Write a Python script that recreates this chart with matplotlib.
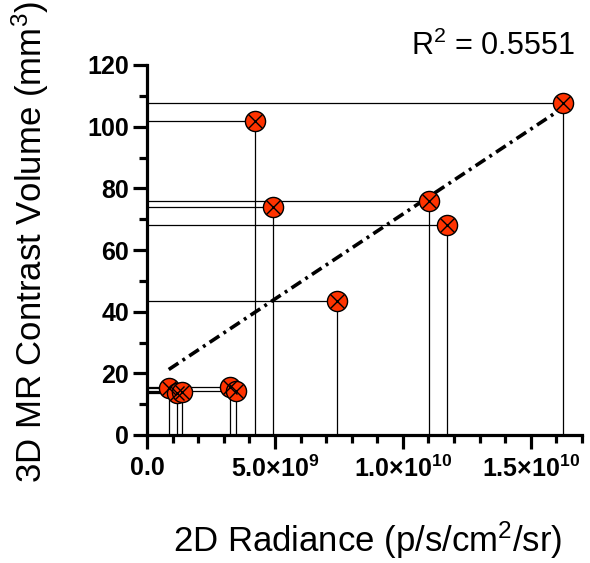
import numpy as np
import matplotlib
matplotlib.use("Agg")
import matplotlib.pyplot as plt
from matplotlib.ticker import MultipleLocator, FixedLocator

plt.rcParams['font.family'] = ['Liberation Sans', 'DejaVu Sans']
plt.rcParams['mathtext.fontset'] = 'custom'
plt.rcParams['mathtext.rm'] = 'Liberation Sans'
plt.rcParams['mathtext.bf'] = 'Liberation Sans:bold'
plt.rcParams['mathtext.it'] = 'Liberation Sans:italic'
plt.rcParams['mathtext.default'] = 'regular'

# ---- data ----
radiance = [0.85e9, 1.16e9, 1.38e9, 3.25e9, 3.47e9, 4.22e9, 4.91e9, 7.43e9, 11.03e9, 11.73e9, 16.27e9]
volume = [15.1, 13.6, 14.0, 15.7, 14.4, 101.9, 74.0, 43.6, 75.9, 68.1, 107.8]
x_ticks = [0, 5e9, 1e10, 1.5e10]
x_tick_labels = ['0.0', r'$\mathbf{5.0{\times}10^{9}}$', r'$\mathbf{1.0{\times}10^{10}}$', r'$\mathbf{1.5{\times}10^{10}}$']
y_ticks = [0, 20, 40, 60, 80, 100, 120]
r2_text = 'R$^2$ = 0.5551'
xlabel = '2D Radiance (p/s/cm$^2$/sr)'
ylabel = '3D MR Contrast Volume (mm$^3$)'

x = np.array(radiance)
y = np.array(volume)

fig = plt.figure(figsize=(5.9, 5.63), dpi=100)
ax = fig.add_axes([147/590, 1-435/563, (582-147)/590, (435-65)/563])

# drop lines
for xi, yi in zip(x, y):
    ax.plot([0, xi], [yi, yi], color='black', lw=0.9, zorder=2, clip_on=False, solid_capstyle='butt')
    ax.plot([xi, xi], [0, yi], color='black', lw=0.9, zorder=2, clip_on=False, solid_capstyle='butt')

# regression
slope, intercept = np.polyfit(x, y, 1)
xf = np.array([x.min(), x.max()])
ax.plot(xf, slope*xf + intercept, color='black', lw=2.6,
        linestyle=(0, (3.2, 1.4, 0.8, 1.4)), dash_capstyle='butt', zorder=3)

# markers
ax.plot(x, y, 'o', ms=14.5, mfc='#FF3300', mec='black', mew=1.0, zorder=4, clip_on=False)
ax.plot(x, y, 'x', ms=9.5, mec='black', mew=1.0, zorder=5, clip_on=False)

ax.set_xlim(0, 1.7e10)
ax.set_ylim(0, 120)

for s in ['top', 'right']:
    ax.spines[s].set_visible(False)
for s in ['left', 'bottom']:
    ax.spines[s].set_linewidth(2.3)

ax.xaxis.set_major_locator(FixedLocator(x_ticks))
ax.xaxis.set_minor_locator(MultipleLocator(1e9))
ax.set_xticklabels(x_tick_labels)
ax.yaxis.set_major_locator(FixedLocator(y_ticks))
ax.yaxis.set_minor_locator(MultipleLocator(10))
ax.set_yticklabels([str(v) for v in y_ticks])

ax.tick_params(which='major', length=10, width=2.3, direction='out')
ax.tick_params(which='minor', length=6, width=2.3, direction='out')
ax.tick_params(axis='x', which='major', pad=5, labelsize=18)
ax.tick_params(axis='y', which='major', pad=3, labelsize=18)
for lab in ax.get_xticklabels() + ax.get_yticklabels():
    lab.set_fontweight('bold')

fig.text(368/590, 1-552/563, xlabel, fontsize=25, ha='center', va='baseline')
fig.text(30/590, 1-242/563, ylabel, fontsize=25, ha='center', va='center', rotation=90)
fig.text(575/590, 1-55/563, r2_text, fontsize=22, ha='right', va='baseline')

fig.savefig('out.png', dpi=100)
